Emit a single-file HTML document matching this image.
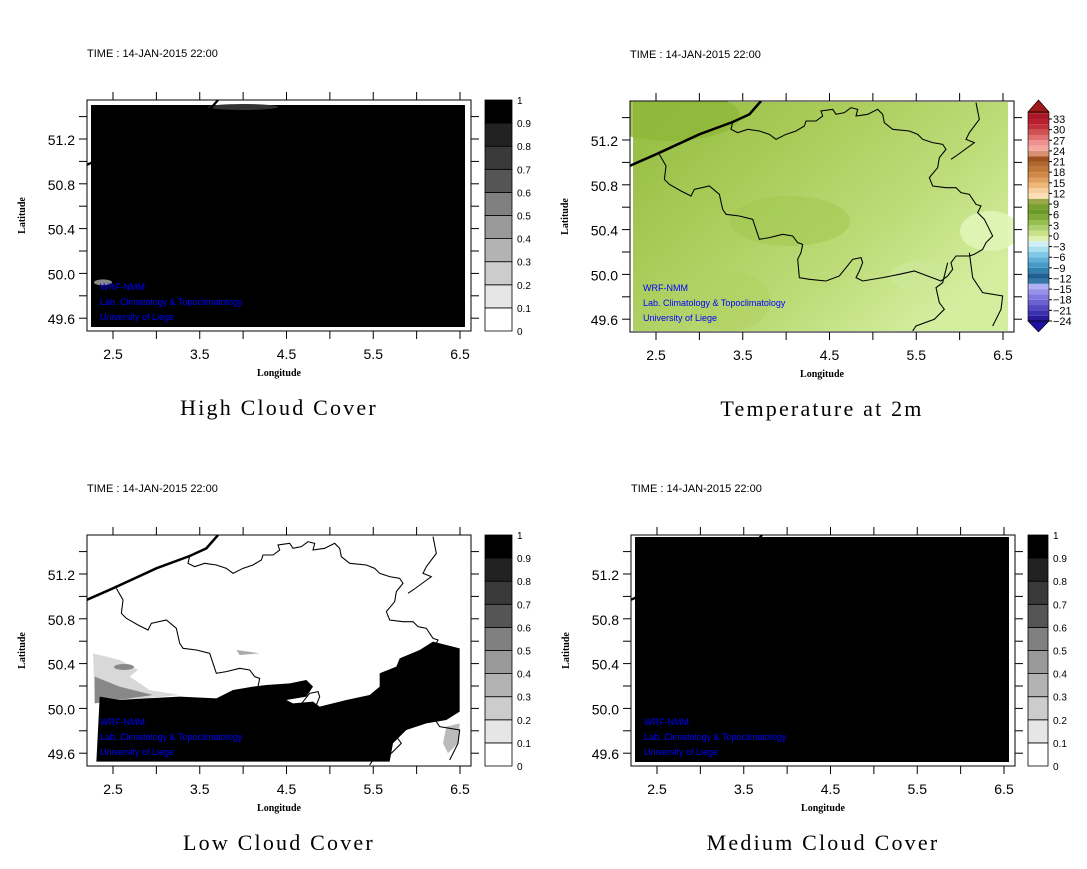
<!DOCTYPE html>
<html><head><meta charset="utf-8"><style>
html,body{margin:0;padding:0;background:#fff;}
svg{display:block;}
text{font-family:"Liberation Sans",sans-serif;}
.serif{font-family:"Liberation Serif",serif;}
</style></head><body>
<svg id="c" width="1087" height="869" viewBox="0 0 1087 869" xmlns="http://www.w3.org/2000/svg">
<defs>
<linearGradient id="tgrad" x1="0" y1="0" x2="1" y2="0.7">
<stop offset="0" stop-color="#93bb40"/><stop offset="0.35" stop-color="#a8cb58"/><stop offset="0.7" stop-color="#bcdc78"/><stop offset="1" stop-color="#d4eea0"/>
</linearGradient>
</defs>
</svg>
<script>
const NS='http://www.w3.org/2000/svg';
const svg=document.getElementById('c');
// ---- data ----
const lonTicks=[2.5,3.0,3.5,4.0,4.5,5.0,5.5,6.0,6.5];
const lonLabels=['2.5','3.5','4.5','5.5','6.5'];
const latTicks=[51.4,51.2,51.0,50.8,50.6,50.4,50.2,50.0,49.8,49.6];
const latLabels=['51.2','50.8','50.4','50.0','49.6'];
const cloudLevels=[0,0.1,0.2,0.3,0.4,0.5,0.6,0.7,0.8,0.9,1];
const cloudColors=['#ffffff','#e6e6e6','#cccccc','#b3b3b3','#999999','#808080','#666666','#4d4d4d','#333333','#222222','#000000'].slice(0,10);
cloudColors[9]='#000000';cloudColors[8]='#222222';cloudColors[7]='#3a3a3a';cloudColors[6]='#555555';
const tempLabels=[33,30,27,24,21,18,15,12,9,6,3,0,-3,-6,-9,-12,-15,-18,-21,-24];
const tempColors=['#2a1a9a','#3a30b0','#5548c0','#6a60d0','#8078e0','#9890e8','#b0b0f4','#3878a8','#206090','#3080b0','#4898c8','#60b0d8','#80c8e8','#a8e0f0','#d0f0f8','#e0f0b0','#c8e088','#b0d070','#98c050','#80aa38','#6a9a28','#78a030','#98a848','#fde0b8','#f8d0a0','#f0b878','#e0a060','#d08848','#c07838','#b06830','#a05020','#d89070','#f4a8a0','#f09090','#e07070','#d05050','#c0303a','#b82030','#a81828','#a01818'];

function el(tag,attrs,parent){const e=document.createElementNS(NS,tag);for(const k in attrs)e.setAttribute(k,attrs[k]);(parent||svg).appendChild(e);return e;}
function txt(s,attrs,parent){const t=el('text',attrs,parent);t.textContent=s;return t;}

const panels=[
 {x:87,y:100,title:'High Cloud Cover',type:'high',cb:485},
 {x:630,y:101,title:'Temperature at 2m',type:'temp',cb:1028},
 {x:87,y:535,title:'Low Cloud Cover',type:'low',cb:485},
 {x:631,y:535,title:'Medium Cloud Cover',type:'mid',cb:1028}
];
const W=384,H=231;
const coast='M20,210 L100,175 L230,115 L330,78 L380,55 L415,15';
const border='M330,78 L325,100 L345,110 L375,100 L410,105 L440,115 L460,130 L490,115 L520,105 L545,90 L550,75 L580,75 L600,60 L595,45 L630,40 L640,55 L665,50 L685,35 L705,40 L700,60 L735,55 L765,40 L780,55 L785,80 L810,100 L860,105 L885,115 L900,130 L930,140 L960,145 L970,160 L950,185 L945,215 L920,245 L930,270 L970,275 L1000,275 L1015,290 L1040,295 L1060,325 L1075,330 L1065,350 L1085,370 L1100,400 L1110,420 L1090,440 L1080,460 L1055,475 L1040,480 '+
 'M110,175 L130,210 L125,250 L140,265 L175,285 L205,300 L215,280 L260,270 L290,295 L300,340 L310,355 L350,360 L390,370 L400,400 L410,430 L440,425 L480,415 L510,420 L525,440 L540,445 L535,470 L525,490 L530,545 L560,550 L610,555 L650,540 L670,515 L690,490 L715,485 L720,500 L710,525 L700,545 L720,555 L780,545 L830,535 L875,525 L915,540 L955,555 L975,540 L990,520 L985,500 L1000,480 L1040,480 '+
 'M1040,470 L1050,545 L1080,590 L1140,600 L1135,640 L1110,690 '+
 'M975,500 L960,560 L940,575 L950,620 L965,640 L935,670 L880,690 L870,705 '+
 'M1060,20 L1070,70 L1040,110 L1030,130 L1055,140 L1000,180 L985,190';

panels.forEach((p,i)=>{
 const g=el('g',{});
 
 
 const X=lon=>p.x+26+(lon-2.5)*86.75;
 const Y=lat=>p.y+39+(51.2-lat)*112;
 const t=txt('TIME : 14-JAN-2015 22:00',{x:p.x,y:p.y-43,'font-size':11},g);
 
 const cid='clip'+i;
 const cp=el('clipPath',{id:cid},g);el('rect',{x:p.x,y:p.y,width:W,height:H},cp);
 const pg=el('g',{'clip-path':'url(#'+cid+')'},g);
 
 const tr='translate('+(p.x-7.3)+','+(p.y-5)+') scale(0.3333)';
 if(p.type==='high'||p.type==='mid'){
  const top=p.type==='mid'?2:5;
  el('rect',{x:p.x+4,y:p.y+top,width:W-10,height:H-top-4,fill:'#000'},pg);
  if(p.type==='high'){el('ellipse',{cx:X(4.0),cy:p.y+7,rx:35,ry:3,fill:'#333'},pg);el('ellipse',{cx:p.x+16,cy:Y(49.92),rx:9,ry:3,fill:'#888'},pg);}
  el('path',{d:coast,transform:tr,fill:'none',stroke:'#000','stroke-width':7},pg);
 } else if(p.type==='temp'){
  el('rect',{x:p.x+3,y:p.y+1,width:W-9,height:H-2,fill:'url(#tgrad)'},pg);
  el('ellipse',{cx:p.x+40,cy:p.y+15,rx:70,ry:25,fill:'#8fb83a',opacity:0.8},pg);
  el('ellipse',{cx:p.x+160,cy:p.y+120,rx:60,ry:25,fill:'#a4c852',opacity:0.6},pg);
  el('ellipse',{cx:p.x+360,cy:p.y+130,rx:30,ry:20,fill:'#dff5b6',opacity:0.9},pg);
  el('ellipse',{cx:p.x+290,cy:p.y+175,rx:30,ry:15,fill:'#cce89a',opacity:0.7},pg);
  el('ellipse',{cx:p.x+100,cy:p.y+200,rx:40,ry:30,fill:'#b0d060',opacity:0.5},pg);
  el('path',{d:border,transform:tr,fill:'none',stroke:'#000','stroke-width':3.2},pg);
  el('path',{d:coast,transform:tr,fill:'none',stroke:'#000','stroke-width':7.5},pg);
 } else {
  el('path',{d:'M40,370 L120,390 L175,420 L150,440 L210,480 L300,495 L45,520 Z',transform:tr,fill:'#d8d8d8'},pg);
  el('path',{d:'M45,440 L120,470 L220,495 L45,520 Z',transform:tr,fill:'#888'},pg);
  el('ellipse',{cx:p.x+37,cy:p.y+132,rx:10,ry:3,fill:'#888'},pg);
  el('path',{d:'M60,500 L120,510 L200,505 L300,500 L410,505 L460,480 L520,470 L560,465 L630,460 L680,450 L700,470 L680,500 L620,510 L640,520 L700,515 L720,530 L800,510 L870,495 L900,470 L900,430 L950,410 L960,385 L1020,360 L1060,335 L1140,355 L1140,545 L1100,570 L1040,580 L980,600 L940,640 L930,695 L50,695 Z',transform:tr,fill:'#000'},pg);
  el('path',{d:'M1100,590 L1140,580 L1135,640 L1105,670 L1090,640 Z',transform:tr,fill:'#bbb'},pg);
  el('path',{d:'M470,360 L540,370 L480,375 Z',transform:tr,fill:'#aaa'},pg);
  el('path',{d:border,transform:tr,fill:'none',stroke:'#000','stroke-width':3.2},pg);
  el('path',{d:coast,transform:tr,fill:'none',stroke:'#000','stroke-width':7.5},pg);
 }
 ['WRF-NMM','Lab. Climatology & Topoclimatology','University of Liege'].forEach((s,k)=>{
  const w=txt(s,{x:p.x+13,y:p.y+190+k*15,'font-size':9,fill:'#0000ff'},g);
  
 });
 const fr=el('rect',{x:p.x,y:p.y,width:W,height:H,fill:'none',stroke:'#000','stroke-width':1},g);
 
 lonTicks.forEach(l=>{
  const x=X(l);
  el('line',{x1:x,y1:p.y,x2:x,y2:p.y-8,stroke:'#000'},g);
  el('line',{x1:x,y1:p.y+H,x2:x,y2:p.y+H+8,stroke:'#000'},g);
 });
 latTicks.forEach(l=>{
  const y=Y(l);
  el('line',{x1:p.x,y1:y,x2:p.x-8,y2:y,stroke:'#000'},g);
  el('line',{x1:p.x+W,y1:y,x2:p.x+W+8,y2:y,stroke:'#000'},g);
 });
 lonLabels.forEach(s=>{const e=txt(s,{x:X(+s),y:p.y+H+28,'font-size':14,'text-anchor':'middle'},g);});
 latLabels.forEach(s=>{const e=txt(s,{x:p.x-12,y:Y(+s)+6,'font-size':14,'text-anchor':'end'},g);});
 const xl=txt('Longitude',{x:p.x+W/2,y:p.y+H+45,'font-size':10,'font-weight':'bold','text-anchor':'middle',class:'serif'},g);
 
 const yl=txt('Latitude',{x:0,y:0,'font-size':10,'font-weight':'bold','text-anchor':'middle',class:'serif',transform:'translate('+(p.x-62)+','+(p.y+H/2)+') rotate(-90)'},g);
 
 const ti=txt(p.title,{x:p.x+W/2,y:p.y+H+84,'font-size':22,'text-anchor':'middle',class:'serif','letter-spacing':'2.2'},g);
 
 // colorbar
 const cb=el('g',{},g);
 
 if(p.type!=='temp'){
  const cx=p.cb,cw=(i===3?20:27),n=cloudColors.length,sh=H/n;
  cloudColors.forEach((c,k)=>{
   const r=el('rect',{x:cx,y:p.y+H-(k+1)*sh,width:cw,height:sh,fill:c,stroke:'#000','stroke-width':0.8},cb);
   
  });
  cloudLevels.forEach((v,k)=>{
   const e=txt(String(v),{x:cx+cw+5,y:p.y+H-k*sh+4,'font-size':10},cb);
   
  });
 } else {
  const cx=p.cb,cw=21,yb=321,step=(321-119)/19,bh=step/2;
  tempColors.forEach((c,k)=>{
   const yy=Math.max(112,yb-(k+1)*bh);
   const r=el('rect',{x:cx,y:yy,width:cw,height:yb-k*bh-yy,fill:c},cb);
   
  });
  el('path',{d:'M'+cx+',112 L'+(cx+cw/2)+',100 L'+(cx+cw)+',112 Z',fill:'#a01818',stroke:'#000','stroke-width':0.6},cb);
  el('path',{d:'M'+cx+',321 L'+(cx+cw/2)+',332 L'+(cx+cw)+',321 Z',fill:'#2010a0',stroke:'#000','stroke-width':0.6},cb);
  el('rect',{x:cx,y:112,width:cw,height:209,fill:'none',stroke:'#000','stroke-width':0.6},cb);
  tempLabels.forEach((v,k)=>{
   const y=119+k*step;
   el('line',{x1:cx+cw,y1:y,x2:cx+cw+3,y2:y,stroke:'#000'},cb);
   const e=txt(v<0?'\u2212'+(-v):String(v),{x:cx+cw+4,y:y+4,'font-size':11},cb);
   
  });
 }
});
</script>
</body></html>
